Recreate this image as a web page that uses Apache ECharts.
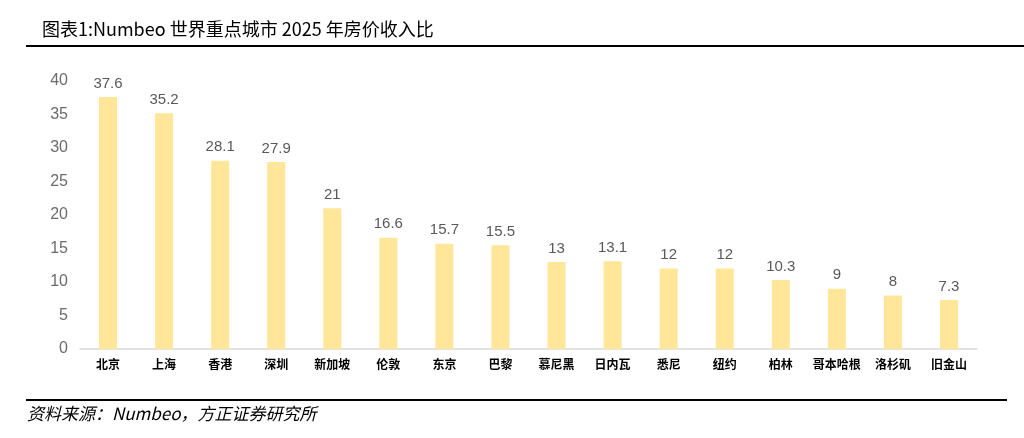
<!DOCTYPE html>
<html><head><meta charset="utf-8">
<script src="https://cdn.jsdelivr.net/npm/echarts@6/dist/echarts.min.js"></script>
<style>html,body{margin:0;padding:0;background:#fff}#c{width:1024px;height:438px}</style>
</head><body><div id="c"></div>
<script>
const categories = ['北京','上海','香港','深圳','新加坡','伦敦','东京','巴黎','慕尼黑','日内瓦','悉尼','纽约','柏林','哥本哈根','洛杉矶','旧金山'];
const values = [37.6,35.2,28.1,27.9,21,16.6,15.7,15.5,13,13.1,12,12,10.3,9,8,7.3];
const titleText = '图表1:Numbeo 世界重点城市 2025 年房价收入比';
const sourceText = '资料来源：Numbeo，方正证券研究所';

const chart = echarts.init(document.getElementById('c'));
chart.setOption({
  animation:false,
  grid:{left:80,right:47,top:81,bottom:89,containLabel:false},
  xAxis:{type:'category',data:categories,
    axisLine:{lineStyle:{color:'#D9D9D9',width:1.5}},axisTick:{show:false},
    axisLabel:{color:'#000',fontSize:12,fontWeight:'bold',fontFamily:'Noto Sans CJK SC',margin:9,interval:0}},
  yAxis:{type:'value',min:0,max:40,interval:5,
    axisLine:{show:false},axisTick:{show:false},splitLine:{show:false},
    axisLabel:{color:'#6b6b6b',fontSize:16,fontFamily:'Liberation Sans',margin:12}},
  series:[{type:'bar',data:values,barWidth:18,itemStyle:{color:'#FFE699'},
    label:{show:true,position:'top',distance:6,color:'#595959',fontSize:15,fontFamily:'Liberation Sans'}}],
  graphic:[
    {type:'text',left:42,top:20,style:{text:titleText,fill:'#000',fontSize:18,fontWeight:'normal',fontFamily:'Noto Sans CJK SC'}},
    {type:'line',shape:{x1:26,y1:46,x2:1024,y2:46},style:{stroke:'#000',lineWidth:2}},
    {type:'line',shape:{x1:26,y1:400,x2:1007,y2:400},style:{stroke:'#000',lineWidth:2}},
    {type:'text',left:27,top:405,style:{text:sourceText,fill:'#000',fontSize:17,fontStyle:'italic',fontFamily:'Noto Sans CJK SC'}}
  ]
});
</script></body></html>
